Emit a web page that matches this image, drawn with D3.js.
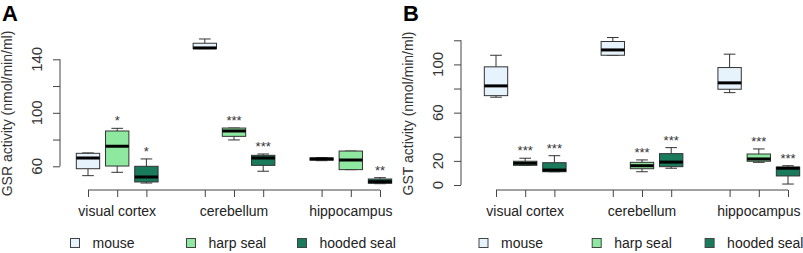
<!DOCTYPE html>
<html>
<head>
<meta charset="utf-8">
<script src="https://cdn.jsdelivr.net/npm/d3@7"></script>
<style>
  body { margin: 0; background: #fff; }
  svg { font-family: "Liberation Sans", Arial, sans-serif; }
</style>
</head>
<body>
<div id="chart"></div>
<script>
var regions = ["visual cortex", "cerebellum", "hippocampus"];
var species = ["mouse", "harp seal", "hooded seal"];
var colors = ["#e6f2fc", "#8ee8a0", "#197a5c"];

// [lower whisker, q1, median, q3, upper whisker] per region, per species
var gsr = [
  [[53, 58.2, 66.2, 69.7, 70], [55.5, 60.2, 75, 86.4, 88.4], [47.5, 48.3, 52, 60, 65.5]],
  [[148, 148, 148.5, 152, 155.2], [79.7, 82.4, 86.4, 88.6, 88.6], [56.3, 60.7, 66.2, 68.2, 69.2]],
  [[64.2, 64.6, 65.5, 66.2, 66.5], [57.5, 57.5, 64.7, 71.4, 71.4], [47, 47.3, 48.5, 50.5, 51.5]]
];
var gst = [
  [[72.8, 74.1, 82.2, 98, 107.6], [16.3, 16.3, 18, 19.7, 22.2], [11, 11, 12.4, 18.5, 24.3]],
  [[107.6, 107.6, 112, 119, 122.3], [11, 13.5, 16, 18.8, 20.8], [13.9, 15.2, 19, 26, 31]],
  [[76.6, 79.4, 84.7, 97.4, 108.5], [18.8, 19.7, 21.6, 25.7, 29.9], [0.8, 7.5, 13.9, 14.9, 16]]
];
var gsrSig = [["", "*", "*"], ["", "***", "***"], ["", "", "**"]];
var gstSig = [["", "***", "***"], ["", "***", "***"], ["", "***", "***"]];

var gsrTicks = [60, 80, 100, 120, 140], gsrLabels = [60, 100, 140];
var gstTicks = [0, 20, 40, 60, 80, 100, 120], gstLabels = [0, 20, 60, 100];

var svg = d3.select("#chart").append("svg")
    .attr("width", 803)
    .attr("height", 253);

function panel(ox, xr, lx, letter, title, data, sig, yDomain, yRange, ticks, labels) {
    var g = svg.append("g").attr("transform", `translate(${ox},0)`);

    var x = d3.scaleLinear().domain([1, 11]).range(xr);
    var y = d3.scaleLinear().domain(yDomain).range(yRange);
    var unit = x(2) - x(1),
        bw = unit * 0.8;

    g.append("text").attr("x", 2).attr("y", 21)
        .attr("font-size", 22).attr("font-weight", "bold").text(letter);

    g.append("text")
        .attr("transform", `translate(12,${(30 + 197) / 2}) rotate(-90)`)
        .attr("text-anchor", "middle").attr("font-size", 14).attr("fill", "#333")
        .text(title);

    // y axis
    var ya = g.append("g").attr("transform", "translate(60,0)")
        .call(d3.axisLeft(y).tickValues(ticks).tickSize(7).tickFormat(""));
    ya.select(".domain").attr("d", `M0,${y(ticks[0])}V${y(ticks[ticks.length - 1])}`);
    ya.selectAll("line, path").attr("stroke", "#444");
    g.selectAll(".ylab").data(labels).enter().append("text")
        .attr("transform", d => `translate(42,${y(d)}) rotate(-90)`)
        .attr("text-anchor", "middle").attr("font-size", 15).attr("fill", "#333")
        .text(d => d);

    // x axis
    var pos = [];
    regions.forEach((r, i) => species.forEach((s, j) => pos.push(1 + i * 4 + j)));
    var xa = g.append("g").attr("transform", "translate(0,190)")
        .call(d3.axisBottom(x).tickValues(pos).tickSize(7).tickFormat(""));
    xa.select(".domain").attr("d", `M${x(1)},0H${x(11)}`);
    xa.selectAll("line, path").attr("stroke", "#444");
    g.selectAll(".xlab").data(regions).enter().append("text")
        .attr("x", (d, i) => x(2 + i * 4)).attr("y", 216)
        .attr("text-anchor", "middle").attr("font-size", 14).attr("fill", "#222")
        .text(d => d);

    // boxes
    regions.forEach((r, i) => {
        species.forEach((s, j) => {
            var d = data[i][j], cx = x(1 + i * 4 + j);
            var b = g.append("g").attr("stroke", "#333").attr("stroke-width", 1);
            b.append("line").attr("x1", cx).attr("x2", cx).attr("y1", y(d[0])).attr("y2", y(d[1]));
            b.append("line").attr("x1", cx).attr("x2", cx).attr("y1", y(d[3])).attr("y2", y(d[4]));
            b.append("line").attr("x1", cx - bw / 4).attr("x2", cx + bw / 4).attr("y1", y(d[0])).attr("y2", y(d[0]));
            b.append("line").attr("x1", cx - bw / 4).attr("x2", cx + bw / 4).attr("y1", y(d[4])).attr("y2", y(d[4]));
            b.append("rect").attr("x", cx - bw / 2).attr("width", bw)
                .attr("y", y(d[3])).attr("height", Math.max(1, y(d[1]) - y(d[3])))
                .attr("fill", colors[j]);
            b.append("line").attr("x1", cx - bw / 2).attr("x2", cx + bw / 2)
                .attr("y1", y(d[2])).attr("y2", y(d[2]))
                .attr("stroke", "#000").attr("stroke-width", 3);
            if (sig[i][j]) {
                g.append("text").attr("x", cx).attr("y", y(d[4]) - 3)
                    .attr("text-anchor", "middle").attr("font-size", 13).attr("fill", "#333")
                    .text(sig[i][j]);
            }
        });
    });

    // legend
    species.forEach((s, j) => {
        g.append("rect").attr("x", lx[j] - 4.5).attr("y", 238.5).attr("width", 9).attr("height", 9)
            .attr("fill", colors[j]).attr("stroke", "#444");
        g.append("text").attr("x", lx[j] + 17.5).attr("y", 248)
            .attr("font-size", 14).attr("fill", "#222").text(s);
    });
}

panel(0, [88, 380], [75, 191, 302], "A", "GSR activity (nmol/min/ml)",
      gsr, gsrSig, [60, 140], [166.3, 59.3], gsrTicks, gsrLabels);
panel(401, [95, 387], [82.5, 195.7, 308.6], "B", "GST activity (nmol/min/ml)",
      gst, gstSig, [0, 120], [185, 40.3], gstTicks, gstLabels);
</script>
</body>
</html>
